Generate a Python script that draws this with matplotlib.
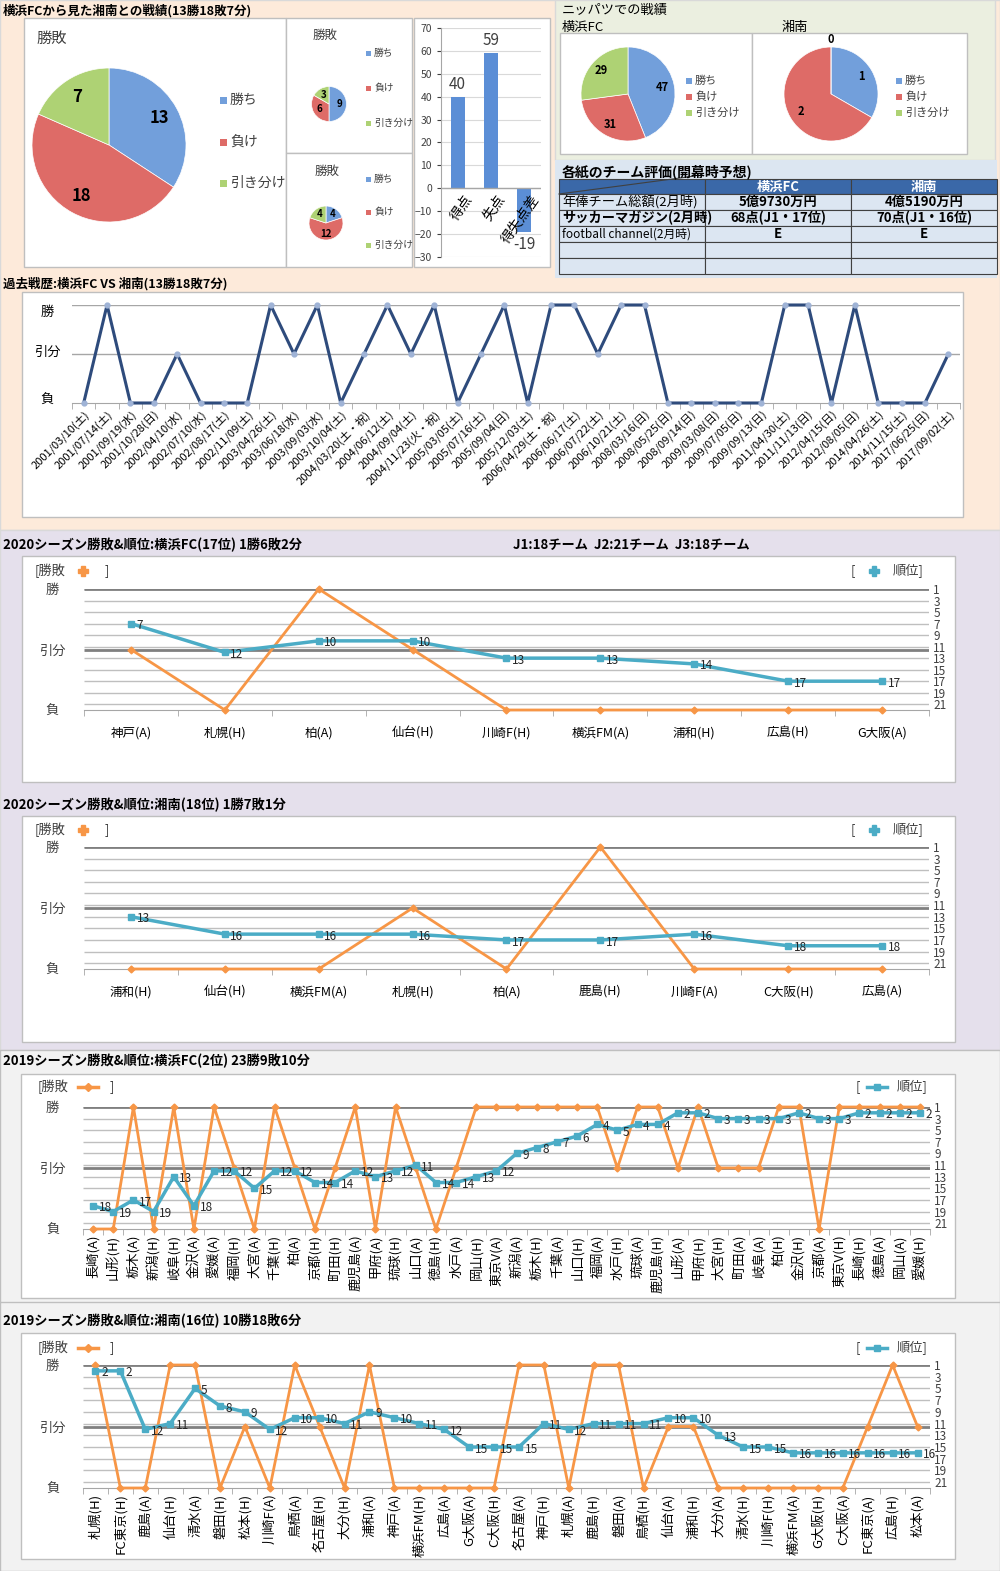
import matplotlib
matplotlib.use('Agg')
import matplotlib.pyplot as plt
import numpy as np
from matplotlib.patches import Rectangle

plt.rcParams['font.family'] = ['Noto Sans CJK JP', 'DejaVu Sans']

# ---------------- data ----------------
result_names = ['勝ち', '負け', '引き分け']
h2h_total = [13, 18, 7]
h2h_home = [9, 6, 3]
h2h_away = [4, 12, 4]
goal_cats = ['得点', '失点', '得失点差']
goal_vals = [40, 59, -19]
nippatsu_yfc = [47, 31, 29]
nippatsu_shonan = [1, 2, 0]

table_cols = ['横浜FC', '湘南']
table_rows = ['年俸チーム総額(2月時)', 'サッカーマガジン(2月時)', 'football channel(2月時)', '', '']
table_yfc = ['5億9730万円', '68点(J1・17位)', 'E', '', '']
table_shonan = ['4億5190万円', '70点(J1・16位)', 'E', '', '']

# past matches: 2 = win, 1 = draw, 0 = loss
hist_dates = ['2001/03/10(土)', '2001/07/14(土)', '2001/09/19(水)', '2001/10/28(日)',
              '2002/04/10(水)', '2002/07/10(水)', '2002/08/17(土)', '2002/11/09(土)',
              '2003/04/26(土)', '2003/06/18(水)', '2003/09/03(水)', '2003/10/04(土)',
              '2004/03/20(土・祝)', '2004/06/12(土)', '2004/09/04(土)', '2004/11/23(火・祝)',
              '2005/03/05(土)', '2005/07/16(土)', '2005/09/04(日)', '2005/12/03(土)',
              '2006/04/29(土・祝)', '2006/06/17(土)', '2006/07/22(土)', '2006/10/21(土)',
              '2008/03/16(日)', '2008/05/25(日)', '2008/09/14(日)', '2009/03/08(日)',
              '2009/07/05(日)', '2009/09/13(日)', '2011/04/30(土)', '2011/11/13(日)',
              '2012/04/15(日)', '2012/08/05(日)', '2014/04/26(土)', '2014/11/15(土)',
              '2017/06/25(日)', '2017/09/02(土)']
hist_results = [0, 2, 0, 0, 1, 0, 0, 0, 2, 1, 2, 0, 1, 2, 1, 2, 0, 1, 2, 0,
                2, 2, 1, 2, 2, 0, 0, 0, 0, 0, 2, 2, 0, 2, 0, 0, 0, 1]

# season charts: 1 = win, 0 = draw, -1 = loss
yfc20_cats = ['神戸(A)', '札幌(H)', '柏(A)', '仙台(H)', '川崎F(H)', '横浜FM(A)', '浦和(H)', '広島(H)', 'G大阪(A)']
yfc20_res = [0, -1, 1, 0, -1, -1, -1, -1, -1]
yfc20_rank = [7, 12, 10, 10, 13, 13, 14, 17, 17]

sho20_cats = ['浦和(H)', '仙台(H)', '横浜FM(A)', '札幌(H)', '柏(A)', '鹿島(H)', '川崎F(A)', 'C大阪(H)', '広島(A)']
sho20_res = [-1, -1, -1, 0, -1, 1, -1, -1, -1]
sho20_rank = [13, 16, 16, 16, 17, 17, 16, 18, 18]

yfc19_cats = ['長崎(A)', '山形(H)', '栃木(A)', '新潟(H)', '岐阜(H)', '金沢(A)', '愛媛(A)', '福岡(H)',
              '大宮(A)', '千葉(H)', '柏(A)', '京都(H)', '町田(H)', '鹿児島(A)', '甲府(A)', '琉球(H)',
              '山口(A)', '徳島(H)', '水戸(A)', '岡山(H)', '東京V(A)', '新潟(A)', '栃木(H)', '千葉(A)',
              '山口(H)', '福岡(A)', '水戸(H)', '琉球(A)', '鹿児島(H)', '山形(A)', '甲府(H)', '大宮(H)',
              '町田(A)', '岐阜(A)', '柏(H)', '金沢(H)', '京都(A)', '東京V(H)', '長崎(H)', '徳島(A)',
              '岡山(A)', '愛媛(H)']
yfc19_res = [-1, -1, 1, -1, 1, -1, 1, 0, -1, 1, 0, -1, 0, 1, -1, 1, 0, -1, 0, 1, 1,
             1, 1, 1, 1, 1, 0, 1, 1, 0, 1, 0, 0, 0, 1, 1, -1, 1, 1, 1, 1, 1]
yfc19_rank = [18, 19, 17, 19, 13, 18, 12, 12, 15, 12, 12, 14, 14, 12, 13, 12, 11, 14, 14, 13, 12,
              9, 8, 7, 6, 4, 5, 4, 4, 2, 2, 3, 3, 3, 3, 2, 3, 3, 2, 2, 2, 2]

sho19_cats = ['札幌(H)', 'FC東京(H)', '鹿島(A)', '仙台(H)', '清水(A)', '磐田(H)', '松本(H)', '川崎F(A)',
              '鳥栖(A)', '名古屋(H)', '大分(H)', '浦和(A)', '神戸(A)', '横浜FM(H)', '広島(A)', 'G大阪(A)',
              'C大阪(H)', '名古屋(A)', '神戸(H)', '札幌(A)', '鹿島(H)', '磐田(A)', '鳥栖(H)', '仙台(A)',
              '浦和(H)', '大分(A)', '清水(H)', '川崎F(H)', '横浜FM(A)', 'G大阪(H)', 'C大阪(A)', 'FC東京(A)',
              '広島(H)', '松本(A)']
sho19_res = [1, -1, -1, 1, 1, -1, 0, -1, 1, 0, -1, 1, -1, -1, -1, -1, -1,
             1, 1, -1, 1, 1, -1, 0, 0, -1, -1, -1, -1, -1, -1, 0, 1, 0]
sho19_rank = [2, 2, 12, 11, 5, 8, 9, 12, 10, 10, 11, 9, 10, 11, 12, 15, 15,
              15, 11, 12, 11, 11, 11, 10, 10, 13, 15, 15, 16, 16, 16, 16, 16, 16]

pie_colors = ['#729FDB', '#DE6B67', '#AED274']
ORANGE = '#F79646'
TEAL = '#4BACC6'
TXT = '#404040'

# ---------------- figure ----------------
W, H = 1000, 1571
fig = plt.figure(figsize=(W / 100, H / 100), dpi=100)


def rect(x, y, w, h):
    return [x / W, 1 - (y + h) / H, w / W, h / H]


bg = fig.add_axes([0, 0, 1, 1])
bg.set_xlim(0, W)
bg.set_ylim(H, 0)
bg.axis('off')


def panel(x0, y0, x1, y1, fc='white', ec='#BFBFBF', lw=1):
    bg.add_patch(Rectangle((x0, y0), x1 - x0, y1 - y0, facecolor=fc, edgecolor=ec, linewidth=lw))


def label(x, y, s, size=9, **kw):
    kw.setdefault('va', 'center')
    bg.text(x, y, s, fontsize=size, **kw)


# section backgrounds
panel(0, 0, 1000, 530, fc='#FDEADA', ec='#D9D9D9')
panel(555, 0, 995, 160, fc='#EBEFE0', ec='#D9D9D9')
panel(555, 160, 997, 278, fc='#DCE6F1', ec='none')
panel(0, 530, 1000, 1050, fc='#E5E0EC', ec='#D9D9D9')
panel(0, 1050, 1000, 1571, fc='#F2F2F2', ec='#BFBFBF')
bg.plot([0, 1000], [1302, 1302], color='#BFBFBF', lw=1)

# ---------------- head-to-head pies ----------------
label(3, 11, '横浜FCから見た湘南との戦績(13勝18敗7分)', size=9, fontweight='bold')
panel(24, 18, 286, 267)
panel(286, 18, 412, 153)
panel(286, 153, 412, 267)
panel(414, 18, 550, 267)


def pie(cx, cy, r, vals, fs, dist):
    ax = fig.add_axes(rect(cx - r, cy - r, 2 * r, 2 * r))
    wedges, texts = ax.pie(vals, labels=[str(v) for v in vals], colors=pie_colors,
                           startangle=90, counterclock=False, labeldistance=dist,
                           textprops=dict(fontsize=fs, fontweight='bold', ha='center', va='center'),
                           wedgeprops=dict(linewidth=0.5, edgecolor='white'))
    ax.set_xlim(-1, 1)
    ax.set_ylim(-1, 1)
    for v, t in zip(vals, texts):
        if v == 0:
            px, py = t.get_position()
            t.set_position((px / dist * 1.15, py / dist * 1.15))
    return ax


def pie_legend(x, ys, fs, sq):
    for y, name, c in zip(ys, result_names, pie_colors):
        bg.add_patch(Rectangle((x, y - sq / 2), sq, sq, facecolor=c, edgecolor='none'))
        label(x + sq + 3, y, name, size=fs, color=TXT)


label(52, 38, '勝敗', size=11, ha='center', color=TXT)
pie(109, 145, 77, h2h_total, 12, 0.75)
pie_legend(220, [100, 142, 183], 10, 7)

label(325, 35, '勝敗', size=9, ha='center', color=TXT)
pie(329, 104, 17.5, h2h_home, 7, 0.62)
pie_legend(366, [53, 88, 123], 7, 5)

label(327, 171, '勝敗', size=9, ha='center', color=TXT)
pie(326, 223, 17, h2h_away, 7, 0.62)
pie_legend(366, [179, 212, 245], 7, 5)

# goals bar chart
axb = fig.add_axes(rect(441, 28, 100, 229))
axb.set_facecolor('none')
xb = np.arange(len(goal_vals))
axb.bar(xb, goal_vals, width=0.42, color='#5B8ED6', zorder=2)
axb.set_xlim(-0.5, 2.5)
axb.set_ylim(-30, 70)
axb.set_yticks(range(-30, 71, 10))
axb.tick_params(axis='y', labelsize=7.5, length=3, colors=TXT)
axb.set_xticks([])
axb.grid(axis='y', color='#D9D9D9', lw=0.8)
axb.set_axisbelow(True)
for s in ['top', 'right', 'bottom']:
    axb.spines[s].set_visible(False)
axb.spines['left'].set_color('#A6A6A6')
axb.axhline(0, color='#A6A6A6', lw=1)
for xi, v, c in zip(xb, goal_vals, goal_cats):
    axb.annotate(str(v), (xi, v), xytext=(0, 3 if v > 0 else -3), textcoords='offset points',
                 ha='center', va='bottom' if v > 0 else 'top', fontsize=11, color=TXT)
    axb.annotate(c, (xi, 0), xytext=(4, -3), textcoords='offset points', rotation=55,
                 ha='right', va='top', rotation_mode='anchor', fontsize=10)

# ---------------- Nippatsu pies ----------------
label(562, 10, 'ニッパツでの戦績', size=9.5)
label(562, 27, '横浜FC', size=9.5)
label(782, 27, '湘南', size=9.5)
panel(560, 33, 752, 154)
panel(752, 33, 967, 154)
pie(628, 94, 47, nippatsu_yfc, 8, 0.75)
pie_legend(686, [81, 97, 113], 8, 6)
pie(831, 94, 47, nippatsu_shonan, 8, 0.75)
pie_legend(896, [81, 97, 113], 8, 6)

# ---------------- evaluation table ----------------
label(562, 172, '各紙のチーム評価(開幕時予想)', size=10, fontweight='bold')
cols = [559, 705, 851, 997]
rows = [179, 194, 210, 226, 242, 258, 274]
for ci in range(3):
    bg.add_patch(Rectangle((cols[ci], rows[0]), cols[ci + 1] - cols[ci], rows[1] - rows[0],
                           facecolor='#3A68A8', edgecolor='#404040', linewidth=0.8))
bg.plot([cols[0], cols[1] - 10], [rows[1], rows[0] - 3], color='#404040', lw=0.8)
for ci, name in enumerate(table_cols):
    label((cols[ci + 1] + cols[ci + 2]) / 2, (rows[0] + rows[1]) / 2, name, size=9.5,
          ha='center', color='white', fontweight='bold')
for ri in range(len(table_rows)):
    y0, y1 = rows[ri + 1], rows[ri + 2]
    for ci in range(3):
        bg.add_patch(Rectangle((cols[ci], y0), cols[ci + 1] - cols[ci], y1 - y0,
                               facecolor='#DCE6F2', edgecolor='#404040', linewidth=0.8))
    ym = (y0 + y1) / 2
    label(cols[0] + 3, ym, table_rows[ri], size=9.5 if ri < 2 else 8.5,
          fontweight='bold' if ri == 1 else 'normal')
    label((cols[1] + cols[2]) / 2, ym, table_yfc[ri], size=9.5, ha='center', fontweight='bold')
    label((cols[2] + cols[3]) / 2, ym, table_shonan[ri], size=9.5, ha='center', fontweight='bold')

# ---------------- past history ----------------
label(3, 284, '過去戦歴:横浜FC VS 湘南(13勝18敗7分)', size=9, fontweight='bold')
panel(22, 292, 963, 517)
axh = fig.add_axes(rect(72, 305, 888, 98))
axh.set_facecolor('none')
xh = np.arange(len(hist_dates))
axh.set_xlim(-0.5, len(hist_dates) - 0.5)
axh.set_ylim(0, 2)
for lv in (1, 2):
    axh.axhline(lv, color='#A6A6A6', lw=1, zorder=1)
axh.plot(xh, hist_results, color='#2E4B7C', lw=2.2, marker='o', ms=3.5,
         mfc='#9FB3D6', mec='#9FB3D6', clip_on=False, zorder=3)
for s in ['top', 'right', 'left']:
    axh.spines[s].set_visible(False)
axh.spines['bottom'].set_color('#A6A6A6')
axh.set_xticks(xh)
axh.set_xticklabels(hist_dates, rotation=45, ha='right', rotation_mode='anchor', fontsize=8)
axh.tick_params(axis='x', length=0, pad=4)
axh.set_xticks(np.arange(-0.5, len(hist_dates)), minor=True)
axh.tick_params(axis='x', which='minor', length=4, color='#A6A6A6')
axh.set_yticks([0.08, 1.06, 1.88])
axh.set_yticklabels(['負', '引分', '勝'], fontsize=9.5)
axh.tick_params(axis='y', length=0, pad=18)
for t in axh.get_yticklabels():
    t.set_ha('center')


# ---------------- season charts ----------------
def season(top, bottom, left, right, cats, res, ranks, rot, lab_fs, num_fs, pad_x, pad_y):
    ax = fig.add_axes(rect(left, top, right - left, bottom - top))
    ax.set_facecolor('none')
    n = len(cats)
    x = np.arange(n)
    ax.set_xlim(-0.5, n - 0.5)
    ax.set_ylim(-1, 1)
    ax2 = ax.twinx()
    ax2.set_ylim(22, 1)
    ax.hlines(np.arange(1, 22, 2), -0.5, n - 0.5, color='#BFBFBF', lw=1,
              transform=ax2.transData, zorder=1)
    ax.hlines([1, 0], -0.5, n - 0.5, color='#808080', lw=2, zorder=1)
    ax.plot(x, res, color=ORANGE, lw=2, marker='D', ms=3.5, clip_on=False, zorder=3)
    ax2.plot(x, ranks, color=TEAL, lw=2.5, marker='s', ms=5, clip_on=False, zorder=3)
    for xi, r in zip(x, ranks):
        ax2.annotate(str(r), (xi, r), xytext=(4, -1.5), textcoords='offset points',
                     ha='left', va='center', fontsize=num_fs, color='#262626')
    for a in (ax, ax2):
        for s in ['top', 'right', 'left']:
            a.spines[s].set_visible(False)
    ax2.spines['bottom'].set_visible(False)
    ax.spines['bottom'].set_color('#A6A6A6')
    ax.set_yticks([1, 0, -1])
    ax.set_yticklabels(['勝', '引分', '負'], fontsize=9.5, color=TXT)
    ax.tick_params(axis='y', length=0, pad=pad_y)
    for t in ax.get_yticklabels():
        t.set_ha('center')
    ax2.set_yticks(range(1, 22, 2))
    ax2.tick_params(axis='y', length=0, labelsize=8.5, pad=3, colors=TXT)
    ax.set_xticks(x)
    ax.set_xticklabels(cats, rotation=rot, fontsize=lab_fs)
    ax.tick_params(axis='x', length=0, pad=pad_x)
    ax.set_xticks(np.arange(-0.5, n), minor=True)
    ax.tick_params(axis='x', which='minor', length=4, color='#A6A6A6')
    return ax


def legends(y, lx, rx, line):
    label(lx, y, '[勝敗', size=9.5, color=TXT)
    label(rx, y, '[', size=9.5, color=TXT)
    if line:
        bg.plot([lx + 40, lx + 60], [y, y], color=ORANGE, lw=2.5)
        bg.plot([lx + 50], [y], color=ORANGE, marker='D', ms=4)
        label(lx + 72, y, ']', size=9.5, color=TXT)
        bg.plot([rx + 11, rx + 31], [y, y], color=TEAL, lw=2.5)
        bg.plot([rx + 21], [y], color=TEAL, marker='s', ms=5)
        label(rx + 41, y, '順位]', size=9.5, color=TXT)
    else:
        bg.plot([lx + 48], [y], color=ORANGE, marker='P', ms=7)
        label(lx + 70, y, ']', size=9.5, color=TXT)
        bg.plot([rx + 23], [y], color=TEAL, marker='P', ms=7)
        label(rx + 42, y, '順位]', size=9.5, color=TXT)


label(3, 545, '2020シーズン勝敗&順位:横浜FC(17位) 1勝6敗2分', size=9.5, fontweight='bold')
label(513, 545, 'J1:18チーム  J2:21チーム  J3:18チーム', size=9.5, fontweight='bold')
panel(22, 556, 955, 782)
legends(571, 35, 851, False)
season(589, 710, 84, 929, yfc20_cats, yfc20_res, yfc20_rank, 0, 9, 8.5, 12, 23)

label(3, 805, '2020シーズン勝敗&順位:湘南(18位) 1勝7敗1分', size=9.5, fontweight='bold')
panel(22, 816, 955, 1042)
legends(830, 35, 851, False)
season(847, 969, 84, 929, sho20_cats, sho20_res, sho20_rank, 0, 9, 8.5, 12, 23)

label(3, 1061, '2019シーズン勝敗&順位:横浜FC(2位) 23勝9敗10分', size=9.5, fontweight='bold')
panel(21, 1074, 955, 1298)
legends(1087, 38, 856, True)
season(1107, 1229, 83, 930, yfc19_cats, yfc19_res, yfc19_rank, 90, 9.5, 8.5, 4, 22)

label(3, 1321, '2019シーズン勝敗&順位:湘南(16位) 10勝18敗6分', size=9.5, fontweight='bold')
panel(21, 1333, 955, 1559)
legends(1348, 38, 856, True)
season(1365, 1488, 83, 930, sho19_cats, sho19_res, sho19_rank, 90, 9.5, 8.5, 4, 22)

fig.savefig('out.png', dpi=100)
